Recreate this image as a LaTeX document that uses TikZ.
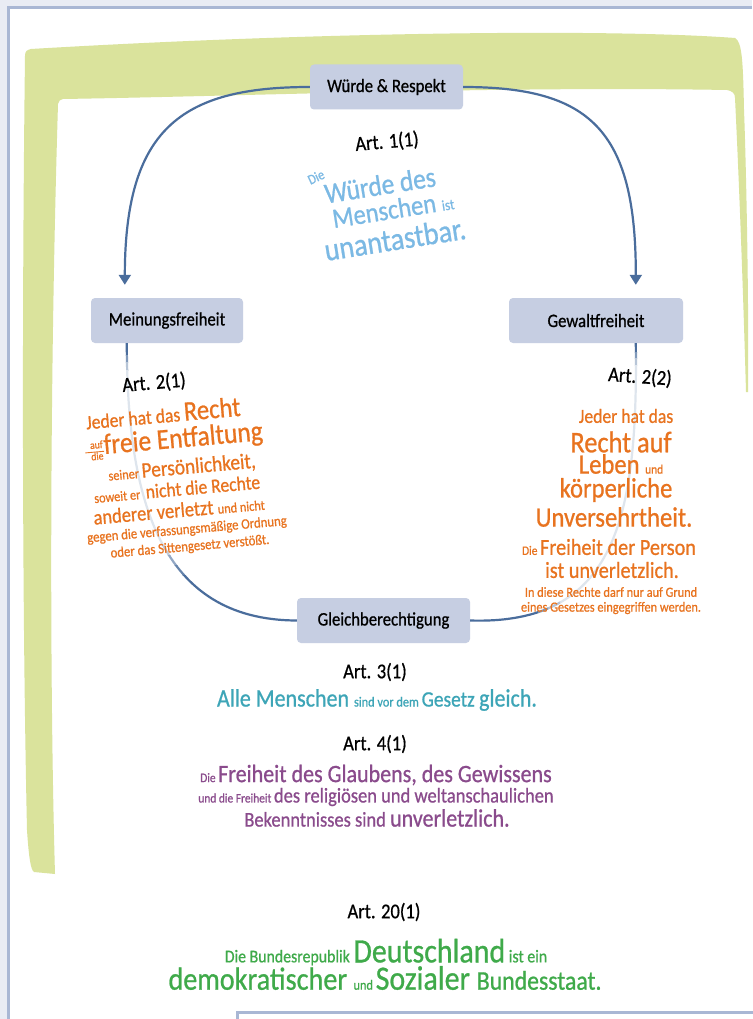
\documentclass[tikz,border=0pt]{standalone}
\usepackage{fontspec}
\usepackage{graphicx}
\setmainfont{Carlito}[FakeBold=0.8]
\usetikzlibrary{arrows.meta,calc}

\definecolor{pagebg}{HTML}{E9ECF4}
\definecolor{rulec}{HTML}{A9B7D4}
\definecolor{framec}{HTML}{DAE39C}
\definecolor{boxfill}{HTML}{C6CEE2}
\definecolor{linec}{HTML}{4A6D9C}
\definecolor{skyblue}{HTML}{7BB9E4}
\definecolor{rust}{HTML}{E8731F}
\definecolor{artteal}{HTML}{3DA5B7}
\definecolor{plum}{HTML}{8A4B8C}
\definecolor{leaf}{HTML}{3FAA4A}

% narrow, tall lettering and per-word sizes
\newcommand\sq[1]{\scalebox{0.88}[1]{#1}}
\newcommand\fz[2]{{\fontsize{#1}{#1}\selectfont #2}}

\tikzset{
  topic/.style={fill=boxfill, rounded corners=4pt, minimum height=45pt, inner sep=0pt, text=black},
  conn/.style={line width=2.2pt, draw=linec},
  tip/.style={-{Triangle[length=10pt,width=12pt]}},
  txt/.style={inner sep=0pt},
  art/.style={txt, text=black},
}

\newcommand\leftarc{(mfout) .. controls (127,500) and (160,620) .. (gb.west)}
\newcommand\rightarc{(gwout) .. controls (638,520) and (615,625) .. (gb.east)}

\begin{document}
\begin{tikzpicture}[x=1pt,y=-1pt]
\useasboundingbox (0,0) rectangle (752,1019);

% page and panels
\fill[pagebg] (0,0) rectangle (752,1019);
\fill[white] (8,8) rectangle (752,1019);
\draw[rulec, line width=3pt] (8.5,1019) -- (8.5,7.5) -- (752,7.5);
\draw[rulec, line width=3pt] (237.5,1025) -- (237.5,1012) -- (760,1012);

% green frame
\begin{scope}
  \clip (0,0) rectangle (752,1019);
  \fill[framec] (34,872) -- (55,874)
    .. controls (50,700) and (49,400) .. (58,104)
    .. controls (59,101) and (60,99) .. (63,99)
    .. controls (250,96) and (500,86) .. (727,90)
    .. controls (732,91) and (735,93) .. (735,98)
    .. controls (740,200) and (744,320) .. (746,392)
    -- (748,392)
    .. controls (749,300) and (746,160) .. (744,110)
    .. controls (743,60) and (742,42) .. (735,38)
    .. controls (600,28) and (300,33) .. (31,49)
    .. controls (27,50) and (25,51) .. (25,56)
    .. controls (22,300) and (22,600) .. (27,830)
    .. controls (29,860) and (31,870) .. (34,872) -- cycle;
\end{scope}

% topic boxes
\node[topic, minimum width=153pt] (wr) at (386.5,87) {\sq{\fz{19}{Würde \& Respekt}}};
\node[topic, minimum width=152pt] (mf) at (167,320.5) {\sq{\fz{19}{Meinungsfreiheit}}};
\node[topic, minimum width=174pt] (gw) at (596,320.5) {\sq{\fz{19}{Gewaltfreiheit}}};
\node[topic, minimum width=173pt] (gb) at (383.5,620.5) {\sq{\fz{19}{Gleichberechtigung}}};

\coordinate (mfin)  at ($(mf.north west)+(34,-13)$);
\coordinate (gwin)  at ($(gw.north west)+(127,-13)$);
\coordinate (mfout) at ($(mf.south west)+(36,0)$);
\coordinate (gwout) at ($(gw.south west)+(127,0)$);

% connectors
\draw[conn, tip] (wr.west) .. controls (180,87) and (125,130) .. (mfin);
\draw[conn, tip] (wr.east) .. controls (590,87) and (636,130) .. (gwin);

\foreach \xa/\ya/\xb/\yb/\p in {0/0/752/355/100, 0/355/752/362/70, 0/362/752/370/40,
    0/370/752/545/18, 0/545/752/555/35, 0/555/752/565/60, 0/565/752/575/85, 0/575/752/1019/100}{
  \begin{scope}
    \clip (\xa,\ya) rectangle (\xb,\yb);
    \draw[conn, draw=linec!\p!white] \leftarc;
  \end{scope}
}
\foreach \xa/\ya/\xb/\yb/\p in {0/0/752/352/100, 0/352/752/358/70, 0/358/752/365/40,
    560/365/752/1019/18, 548/365/560/1019/40, 538/365/548/1019/70, 0/365/538/1019/100}{
  \begin{scope}
    \clip (\xa,\ya) rectangle (\xb,\yb);
    \draw[conn, draw=linec!\p!white] \rightarc;
  \end{scope}
}

% Art. 1
\node[art, rotate=5] (a1) at (387,142) {\sq{\fz{21}{Art. 1(1)}}};
\node[txt, text=skyblue, rotate=25] (a1die) at (316,177) {\sq{\fz{14}{Die}}};
\node[txt, text=skyblue, rotate=9] (a1l1) at (380,185) {\sq{\fz{29}{Würde des}}};
\node[txt, text=skyblue, rotate=9] (a1l2) at (393,209) {\sq{\fz{28}{Menschen }\fz{15}{ist}}};
\node[txt, text=skyblue, rotate=9] (a1l3) at (395,239) {\sq{\fz{32}{unantastbar.}}};

% Art. 2(1)
\node[art, rotate=5] (a21) at (154,383) {\sq{\fz{21}{Art. 2(1)}}};
\node[txt, text=rust, rotate=5] (l1) at (163,413) {\sq{\fz{20}{Jeder hat das }\fz{28}{Recht}}};
\node[txt, text=rust, rotate=5] (l2) at (174,442) {\sq{\fz{11}{\setlength\arrayrulewidth{0.9pt}\renewcommand\arraystretch{0.9}\begin{tabular}[c]{@{\hspace{6pt}}c@{\hspace{1pt}}}auf\\\hline die\end{tabular}}\fz{29}{freie Entfaltung}}};
\node[txt, text=rust, rotate=5] (l3) at (182,468) {\sq{\fz{14}{seiner }\fz{22}{Persönlichkeit,}}};
\node[txt, text=rust, rotate=5] (l4) at (177,489) {\sq{\fz{14}{soweit er\ \ }\fz{20}{nicht die Rechte}}};
\node[txt, text=rust, rotate=5] (l5) at (179,510) {\sq{\fz{21}{anderer verletzt }\fz{14}{und nicht}}};
\node[txt, text=rust, rotate=5] (l6) at (187,530) {\sq{\fz{14.5}{gegen die verfassungsmäßige Ordnung}}};
\node[txt, text=rust, rotate=5] (l7) at (190,547) {\sq{\fz{14.5}{oder das Sittengesetz verstößt.}}};

% Art. 2(2)
\node[art, rotate=-4] (a22) at (640,377) {\sq{\fz{21}{Art. 2(2)}}};
\node[txt, text=rust] (r1) at (626,416) {\sq{\fz{20}{Jeder hat das}}};
\node[txt, text=rust] (r2) at (621,442) {\sq{\fz{30}{Recht auf}}};
\node[txt, text=rust] (r3) at (621,464) {\sq{\fz{28}{Leben }\fz{13}{und}}};
\node[txt, text=rust] (r4) at (616,490) {\sq{\fz{28}{körperliche}}};
\node[txt, text=rust] (r5) at (614,517) {\sq{\fz{28}{Unversehrtheit.}}};
\node[txt, text=rust] (r6) at (609,547) {\sq{\fz{13}{Die }\fz{23}{Freiheit der Person}}};
\node[txt, text=rust] (r7) at (612,570) {\sq{\fz{23}{ist unverletzlich.}}};
\node[txt, text=rust] (r8) at (611,592) {\sq{\fz{14}{In diese Rechte darf nur auf Grund}}};
\node[txt, text=rust] (r9) at (611,608) {\sq{\fz{14}{eines Gesetzes eingegriffen werden.}}};

% Art. 3 and Art. 4
\node[art] (a3) at (375,672) {\sq{\fz{21}{Art. 3(1)}}};
\node[txt, text=artteal] (t3) at (377,700) {\sq{\fz{25}{Alle Menschen }\fz{14}{sind vor dem }\fz{22}{Gesetz }\fz{25}{gleich.}}};
\node[art] (a4) at (375,744) {\sq{\fz{21}{Art. 4(1)}}};
\node[txt, text=plum] (p1) at (376,775) {\sq{\fz{13}{Die }\fz{25}{Freiheit des Glaubens, des Gewissens}}};
\node[txt, text=plum] (p2) at (376,797) {\sq{\fz{13}{und die Freiheit }\fz{21}{des religiösen und weltanschaulichen}}};
\node[txt, text=plum] (p3) at (377,818) {\sq{\fz{21}{Bekenntnisses sind }\fz{25}{unverletzlich.}}};

% Art. 20
\node[art] (a20) at (384,912) {\sq{\fz{21}{Art. 20(1)}}};
\node[txt, text=leaf] (g1) at (386,952) {\sq{\fz{18}{Die Bundesrepublik }\fz{34}{Deutschland}\fz{18}{ ist ein}}};
\node[txt, text=leaf] (g2) at (385,978) {\sq{\fz{32}{demokratischer }\fz{14}{und }\fz{34}{Sozialer }\fz{27}{Bundesstaat.}}};
\end{tikzpicture}
\end{document}
